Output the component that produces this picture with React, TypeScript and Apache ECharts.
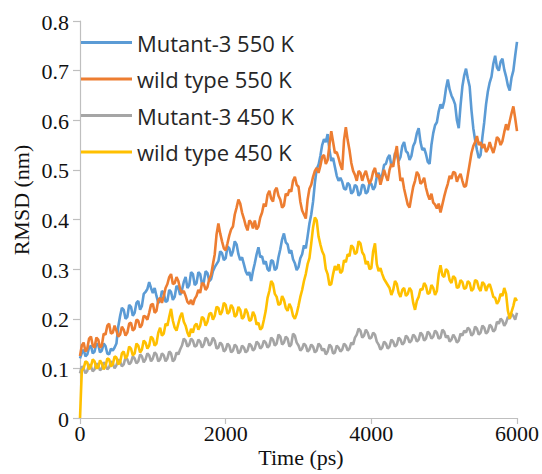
import { useEffect, useRef } from "react";
import * as echarts from "echarts";

// RMSD trajectories (nm), sampled every 25 ps from 0 to 6000 ps
const seriesNames = ["Mutant-3 550 K", "wild type 550 K", "Mutant-3 450 K", "wild type 450 K"];
const seriesColors = ["#5B9BD5", "#ED7D31", "#A5A5A5", "#FFC000"];
const timeMax = 6000;
const xTickStep = 2000;
const yTickStep = 0.1;
const yMax = 0.8;
const xTickLabels = ["0", "2000", "4000", "6000"];
const yTickLabels = ["0", "0.1", "0.2", "0.3", "0.4", "0.5", "0.6", "0.7", "0.8"];

const mutant550 = [
  0.12, 0.131, 0.138, 0.124, 0.128, 0.142, 0.146, 0.13, 0.134, 0.15, 0.148, 0.132, 0.136, 0.15, 0.145, 0.13, 0.128, 0.14, 0.136, 0.142,
  0.15, 0.184, 0.205, 0.222, 0.218, 0.2, 0.204, 0.228, 0.224, 0.206, 0.212, 0.232, 0.236, 0.218, 0.226, 0.25, 0.254, 0.26, 0.274, 0.262,
  0.252, 0.262, 0.246, 0.232, 0.236, 0.256, 0.252, 0.234, 0.236, 0.258, 0.254, 0.238, 0.244, 0.266, 0.262, 0.248, 0.258, 0.274, 0.284, 0.262,
  0.268, 0.294, 0.29, 0.268, 0.272, 0.294, 0.29, 0.27, 0.274, 0.296, 0.292, 0.276, 0.28, 0.296, 0.304, 0.31, 0.316, 0.336, 0.332, 0.318,
  0.322, 0.346, 0.342, 0.326, 0.336, 0.356, 0.35, 0.33, 0.318, 0.324, 0.31, 0.296, 0.288, 0.294, 0.276, 0.296, 0.312, 0.33, 0.344, 0.324,
  0.326, 0.31, 0.316, 0.3, 0.296, 0.318, 0.316, 0.298, 0.302, 0.324, 0.34, 0.36, 0.372, 0.354, 0.35, 0.332, 0.338, 0.32, 0.312, 0.298,
  0.304, 0.322, 0.33, 0.348, 0.342, 0.366, 0.392, 0.41, 0.436, 0.474, 0.502, 0.51, 0.528, 0.55, 0.562, 0.556, 0.572, 0.54, 0.518, 0.524,
  0.506, 0.488, 0.478, 0.484, 0.476, 0.462, 0.46, 0.474, 0.47, 0.452, 0.456, 0.47, 0.466, 0.448, 0.452, 0.47, 0.468, 0.452, 0.456, 0.474,
  0.472, 0.46, 0.466, 0.486, 0.494, 0.482, 0.49, 0.51, 0.512, 0.524, 0.53, 0.508, 0.512, 0.534, 0.53, 0.518, 0.526, 0.548, 0.556, 0.538,
  0.534, 0.52, 0.528, 0.548, 0.556, 0.574, 0.584, 0.556, 0.54, 0.544, 0.532, 0.516, 0.512, 0.55, 0.574, 0.59, 0.596, 0.618, 0.632, 0.624,
  0.638, 0.664, 0.682, 0.662, 0.65, 0.642, 0.632, 0.6, 0.584, 0.63, 0.668, 0.69, 0.704, 0.684, 0.668, 0.62, 0.584, 0.56, 0.54, 0.524,
  0.53, 0.566, 0.596, 0.632, 0.658, 0.676, 0.688, 0.714, 0.73, 0.706, 0.7, 0.718, 0.724, 0.702, 0.688, 0.67, 0.66, 0.686, 0.7, 0.73,
  0.758,
];

const wild550 = [
  0.125, 0.146, 0.152, 0.134, 0.14, 0.16, 0.164, 0.146, 0.142, 0.162, 0.158, 0.142, 0.146, 0.17, 0.168, 0.186, 0.19, 0.17, 0.172, 0.186,
  0.176, 0.164, 0.168, 0.184, 0.178, 0.166, 0.172, 0.19, 0.192, 0.176, 0.18, 0.198, 0.196, 0.182, 0.188, 0.206, 0.204, 0.198, 0.212, 0.228,
  0.23, 0.212, 0.216, 0.238, 0.242, 0.232, 0.246, 0.262, 0.27, 0.284, 0.29, 0.27, 0.272, 0.284, 0.276, 0.26, 0.252, 0.256, 0.246, 0.234,
  0.23, 0.238, 0.228, 0.24, 0.246, 0.258, 0.252, 0.272, 0.27, 0.258, 0.264, 0.28, 0.288, 0.31, 0.33, 0.37, 0.392, 0.372, 0.356, 0.342,
  0.338, 0.352, 0.368, 0.38, 0.386, 0.41, 0.424, 0.44, 0.432, 0.414, 0.402, 0.388, 0.378, 0.398, 0.394, 0.382, 0.398, 0.38, 0.386, 0.404,
  0.414, 0.432, 0.426, 0.45, 0.458, 0.442, 0.436, 0.458, 0.464, 0.448, 0.44, 0.424, 0.428, 0.452, 0.448, 0.46, 0.456, 0.478, 0.486, 0.47,
  0.466, 0.436, 0.418, 0.41, 0.402, 0.44, 0.462, 0.47, 0.486, 0.498, 0.504, 0.494, 0.508, 0.526, 0.53, 0.512, 0.52, 0.55, 0.578, 0.556,
  0.534, 0.536, 0.524, 0.51, 0.5, 0.56, 0.586, 0.56, 0.54, 0.514, 0.498, 0.49, 0.478, 0.498, 0.494, 0.478, 0.49, 0.498, 0.484, 0.472,
  0.48, 0.496, 0.504, 0.486, 0.49, 0.47, 0.484, 0.5, 0.488, 0.478, 0.5, 0.512, 0.506, 0.53, 0.548, 0.51, 0.478, 0.484, 0.462, 0.446,
  0.43, 0.424, 0.446, 0.466, 0.478, 0.496, 0.49, 0.472, 0.476, 0.484, 0.464, 0.45, 0.44, 0.452, 0.434, 0.43, 0.422, 0.432, 0.414, 0.43,
  0.446, 0.46, 0.472, 0.488, 0.482, 0.496, 0.494, 0.476, 0.486, 0.492, 0.478, 0.466, 0.468, 0.49, 0.512, 0.534, 0.548, 0.556, 0.568, 0.55,
  0.556, 0.544, 0.552, 0.536, 0.542, 0.556, 0.544, 0.534, 0.548, 0.566, 0.562, 0.55, 0.558, 0.576, 0.592, 0.58, 0.598, 0.614, 0.628, 0.604,
  0.578,
];

const mutant450 = [
  0.09, 0.104, 0.1, 0.09, 0.095, 0.108, 0.104, 0.094, 0.098, 0.11, 0.106, 0.096, 0.1, 0.112, 0.108, 0.098, 0.102, 0.114, 0.11, 0.1,
  0.106, 0.118, 0.114, 0.104, 0.108, 0.122, 0.118, 0.108, 0.112, 0.124, 0.12, 0.11, 0.114, 0.128, 0.124, 0.112, 0.118, 0.13, 0.126, 0.114,
  0.12, 0.132, 0.128, 0.114, 0.118, 0.13, 0.126, 0.114, 0.12, 0.134, 0.13, 0.114, 0.118, 0.132, 0.128, 0.138, 0.146, 0.16, 0.156, 0.144,
  0.148, 0.16, 0.156, 0.144, 0.146, 0.158, 0.154, 0.142, 0.148, 0.162, 0.158, 0.146, 0.15, 0.162, 0.156, 0.14, 0.142, 0.152, 0.148, 0.134,
  0.138, 0.15, 0.146, 0.132, 0.136, 0.148, 0.144, 0.13, 0.134, 0.146, 0.142, 0.132, 0.136, 0.15, 0.146, 0.136, 0.14, 0.154, 0.15, 0.14,
  0.144, 0.156, 0.152, 0.142, 0.146, 0.162, 0.158, 0.146, 0.15, 0.168, 0.164, 0.148, 0.152, 0.164, 0.16, 0.144, 0.148, 0.17, 0.166, 0.152,
  0.146, 0.136, 0.14, 0.15, 0.146, 0.134, 0.138, 0.148, 0.144, 0.132, 0.136, 0.15, 0.146, 0.136, 0.14, 0.128, 0.134, 0.148, 0.144, 0.13,
  0.132, 0.146, 0.142, 0.134, 0.138, 0.15, 0.146, 0.136, 0.14, 0.152, 0.148, 0.162, 0.168, 0.18, 0.176, 0.162, 0.166, 0.178, 0.172, 0.16,
  0.162, 0.172, 0.168, 0.154, 0.148, 0.138, 0.142, 0.154, 0.15, 0.14, 0.144, 0.158, 0.154, 0.144, 0.148, 0.162, 0.158, 0.148, 0.152, 0.166,
  0.162, 0.152, 0.156, 0.168, 0.164, 0.154, 0.158, 0.172, 0.168, 0.156, 0.16, 0.174, 0.17, 0.16, 0.164, 0.176, 0.172, 0.16, 0.162, 0.178,
  0.174, 0.162, 0.166, 0.154, 0.158, 0.168, 0.162, 0.152, 0.156, 0.17, 0.166, 0.176, 0.172, 0.182, 0.178, 0.166, 0.17, 0.184, 0.18, 0.168,
  0.172, 0.186, 0.182, 0.17, 0.174, 0.188, 0.184, 0.174, 0.178, 0.194, 0.19, 0.2, 0.196, 0.186, 0.192, 0.204, 0.2, 0.21, 0.206, 0.198,
  0.212,
];

const wild450 = [
  0, 0.096, 0.1, 0.114, 0.112, 0.098, 0.104, 0.118, 0.114, 0.1, 0.102, 0.116, 0.11, 0.098, 0.104, 0.12, 0.118, 0.104, 0.108, 0.124,
  0.122, 0.108, 0.112, 0.13, 0.134, 0.12, 0.126, 0.144, 0.14, 0.126, 0.13, 0.15, 0.146, 0.132, 0.138, 0.156, 0.152, 0.14, 0.146, 0.164,
  0.16, 0.146, 0.15, 0.172, 0.182, 0.166, 0.17, 0.19, 0.186, 0.204, 0.22, 0.196, 0.182, 0.176, 0.19, 0.204, 0.212, 0.194, 0.186, 0.172,
  0.164, 0.18, 0.172, 0.186, 0.19, 0.178, 0.186, 0.204, 0.2, 0.186, 0.194, 0.21, 0.212, 0.198, 0.206, 0.224, 0.222, 0.208, 0.214, 0.232,
  0.228, 0.21, 0.214, 0.228, 0.222, 0.204, 0.208, 0.224, 0.218, 0.2, 0.204, 0.22, 0.212, 0.196, 0.198, 0.214, 0.206, 0.188, 0.192, 0.178,
  0.182, 0.198, 0.216, 0.242, 0.256, 0.276, 0.27, 0.25, 0.244, 0.228, 0.23, 0.246, 0.238, 0.222, 0.216, 0.23, 0.222, 0.206, 0.2, 0.21,
  0.226, 0.244, 0.258, 0.276, 0.29, 0.31, 0.322, 0.352, 0.384, 0.404, 0.398, 0.366, 0.35, 0.336, 0.328, 0.3, 0.29, 0.268, 0.27, 0.29,
  0.306, 0.298, 0.31, 0.292, 0.296, 0.318, 0.314, 0.33, 0.326, 0.348, 0.344, 0.33, 0.334, 0.356, 0.352, 0.334, 0.328, 0.31, 0.316, 0.3,
  0.302, 0.336, 0.352, 0.31, 0.296, 0.302, 0.29, 0.28, 0.274, 0.268, 0.262, 0.248, 0.258, 0.276, 0.27, 0.252, 0.244, 0.258, 0.262, 0.246,
  0.25, 0.262, 0.256, 0.232, 0.218, 0.236, 0.244, 0.26, 0.258, 0.272, 0.266, 0.25, 0.252, 0.268, 0.262, 0.248, 0.256, 0.29, 0.308, 0.288,
  0.284, 0.3, 0.296, 0.278, 0.272, 0.286, 0.282, 0.262, 0.264, 0.278, 0.274, 0.26, 0.262, 0.276, 0.272, 0.256, 0.26, 0.278, 0.276, 0.262,
  0.256, 0.274, 0.27, 0.256, 0.266, 0.27, 0.258, 0.244, 0.242, 0.23, 0.236, 0.25, 0.246, 0.262, 0.25, 0.216, 0.2, 0.214, 0.226, 0.242,
  0.236,
];

const allSeries = [mutant550, wild550, mutant450, wild450];

// pair each sample with its time, spreading samples evenly over 0..timeMax
const withTime = (values: number[]) =>
  values.map((v, i) => [(i * timeMax) / (values.length - 1), v]);

const serif = '"Liberation Serif", "Times New Roman", serif';
const axisGray = "#BFBFBF";
const labelColor = "#111111";

const serifText = (
  x: number,
  y: number,
  text: string,
  align: "left" | "center" | "right",
  rotation = 0
) => ({
  type: "text",
  x,
  y,
  rotation,
  silent: true,
  style: {
    text,
    font: `22px ${serif}`,
    fill: labelColor,
    align,
    verticalAlign: "middle",
  },
});

export default function App() {
  const ref = useRef<HTMLDivElement>(null);

  useEffect(() => {
    if (!ref.current) return;
    const chart = echarts.init(ref.current, undefined, { renderer: "svg" });
    chart.setOption({
      animation: false,
      backgroundColor: "#ffffff",
      grid: { left: 80, right: 25, top: 21, bottom: 56, containLabel: false },
      legend: {
        orient: "vertical",
        left: 76,
        top: 26,
        icon: "rect",
        itemWidth: 51,
        itemHeight: 3,
        itemGap: 13.5,
        selectedMode: false,
        textStyle: { fontFamily: "Open Sans", fontSize: 22, color: "#262626", lineHeight: 23 },
        data: seriesNames,
      },
      xAxis: {
        type: "value",
        min: 0,
        max: timeMax,
        interval: xTickStep,
        axisLine: { show: true, lineStyle: { color: axisGray, width: 1.2 } },
        axisTick: { show: true, length: 6, lineStyle: { color: axisGray, width: 1.2 } },
        splitLine: { show: false },
        axisLabel: { show: false },
      },
      yAxis: {
        type: "value",
        min: 0,
        max: yMax,
        interval: yTickStep,
        axisLine: { show: true, lineStyle: { color: axisGray, width: 1.2 } },
        axisTick: { show: true, length: 7, lineStyle: { color: axisGray, width: 1.2 } },
        splitLine: { show: false },
        axisLabel: { show: false },
      },
      series: allSeries.map((values, i) => ({
        name: seriesNames[i],
        type: "line",
        symbol: "none",
        color: seriesColors[i],
        lineStyle: { color: seriesColors[i], width: 2.6 },
        data: withTime(values),
      })),
    });

    // serif tick labels, placed at the axis' own tick positions
    const toPx = (pt: number[]) =>
      chart.convertToPixel({ gridIndex: 0 }, pt) as unknown as number[];
    const xLabels = xTickLabels.map((label, i) => {
      const [px, py] = toPx([i * xTickStep, 0]);
      return serifText(px, py + 15.5, label, "center");
    });
    const yLabels = yTickLabels.map((label, i) => {
      const [px, py] = toPx([0, i * yTickStep]);
      return serifText(px - 11, py + 1, label, "right");
    });

    chart.setOption({
      graphic: [
        serifText(21, 200, "RMSD (nm)", "center", Math.PI / 2),
        serifText(301, 457, "Time (ps)", "center"),
        ...xLabels,
        ...yLabels,
      ],
    });
    return () => chart.dispose();
  }, []);

  return (
    <div
      ref={ref}
      style={{ position: "fixed", left: 0, top: 0, width: 542, height: 474 }}
    />
  );
}
